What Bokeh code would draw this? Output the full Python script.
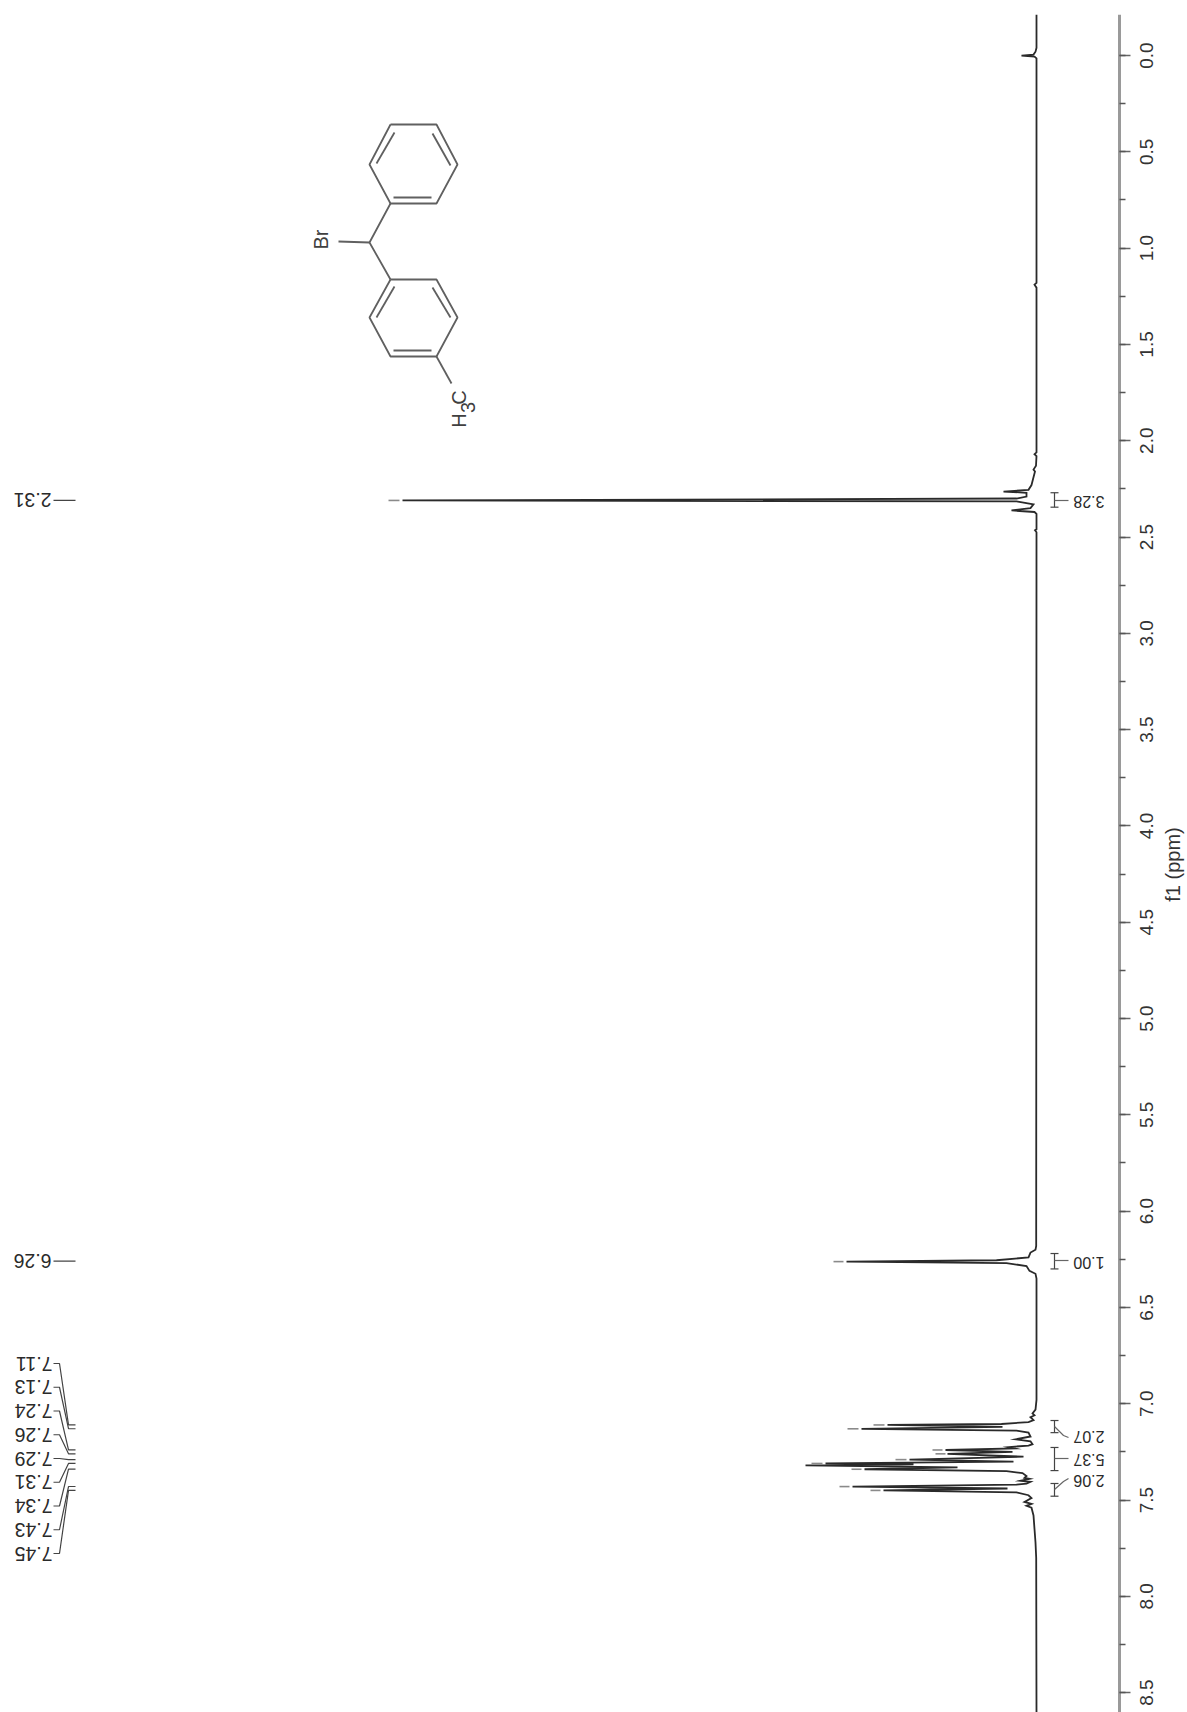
from math import pi
from bokeh.plotting import figure
from bokeh.models import Range1d, SingleIntervalTicker
from bokeh.core.properties import value
from bokeh.embed import file_html
from bokeh.resources import INLINE

FONT = "Liberation Sans"

# Spectrum trace: chemical shift (ppm) and intensity (arbitrary units)
spec_ppm = [
    -0.213, -0.04, -0.02, -0.005, 0.0, 0.006, 0.015, 1.18, 1.19, 1.205, 2.06, 2.07, 2.08, 2.13, 2.15, 2.16, 2.19,
    2.23, 2.255, 2.264, 2.27, 2.29, 2.30, 2.31, 2.315, 2.33, 2.35, 2.362, 2.37, 2.38, 2.46, 2.465, 2.475,
    6.18, 6.20, 6.215, 6.24, 6.255, 6.262, 6.27, 6.285, 6.31, 6.325, 6.35,
    6.98, 7.03, 7.05, 7.06, 7.07, 7.085, 7.095, 7.105, 7.11, 7.12, 7.13, 7.14, 7.15, 7.17, 7.185, 7.195,
    7.21, 7.217, 7.225, 7.232, 7.24, 7.25, 7.26, 7.275, 7.29, 7.30, 7.31, 7.315, 7.32, 7.33, 7.34, 7.35,
    7.36, 7.375, 7.385, 7.39, 7.40, 7.405, 7.415, 7.42, 7.43, 7.44, 7.45, 7.46, 7.475, 7.49, 7.51, 7.52,
    7.53, 7.54, 7.58, 7.65, 7.72, 7.80, 8.603,
]
spec_int = [
    0, 0, 1, 3, 15, 2, 0, 0, 2, 0, 0, 2, 0, 0.5, 3, 1.5, 3,
    5, 8, 33, 10, 10, 20, 634, 20, 3, 6, 25, 2, 0, 0, 1.5, 0,
    0.3, 1, 6, 8, 40, 190, 30, 10, 7, 1, 0,
    0, 1, 4, 2, 6, 3, 8, 35, 149, 34, 175, 20, 8, 6, 21, 6,
    4, 8, 28, 22, 91, 24, 89, 13, 127, 23, 211, 123, 231, 79, 172, 30,
    14, 10, 12, 7, 16, 6, 10, 20, 184, 29, 153, 20, 8, 5, 12, 5,
    10, 5, 3, 2, 1, 0.3, 0,
]

# Faded peak tips
tip_ppm = [2.31, 6.262, 7.11, 7.13, 7.24, 7.26, 7.29, 7.31, 7.34, 7.43, 7.45]
tip_outer = [648, 203, 163, 189, 104, 101, 141, 225, 185, 197, 166]
tip_inner = [637, 193, 152, 178, 94, 91, 130, 214, 175, 187, 156]

# Peak labels
single_labels = ["2.31", "6.26"]
single_ppm = [2.31, 6.26]
group_labels = ["7.11", "7.13", "7.24", "7.26", "7.29", "7.31", "7.34", "7.43", "7.45"]
group_ppm = [7.11, 7.13, 7.24, 7.26, 7.29, 7.31, 7.34, 7.43, 7.45]

# Integrals
int_labels = ["3.28", "1.00", "2.07", "5.37", "2.06"]
int_start = [2.27, 6.22, 7.087, 7.227, 7.414]
int_end = [2.345, 6.30, 7.15, 7.347, 7.48]
int_label_ppm = [2.32, 6.267, 7.175, 7.29, 7.40]

# Axis
tick_values = [0.0, 0.5, 1.0, 1.5, 2.0, 2.5, 3.0, 3.5, 4.0, 4.5, 5.0, 5.5, 6.0, 6.5, 7.0, 7.5, 8.0, 8.5]
tick_labels = ["0.0", "0.5", "1.0", "1.5", "2.0", "2.5", "3.0", "3.5", "4.0",
               "4.5", "5.0", "5.5", "6.0", "6.5", "7.0", "7.5", "8.0", "8.5"]
ppm_major_step = 0.5
axis_title = "f1 (ppm)"

p = figure(
    width=1187, height=1712, frame_width=1179, frame_height=1698,
    x_range=Range1d(1028, -151), y_range=Range1d(8.603, -0.213),
    x_axis_location=None, y_axis_location="right",
    output_backend="svg", toolbar_location=None,
    min_border_left=8, min_border_top=14, min_border_bottom=0, min_border_right=0,
)
p.outline_line_color = None
p.background_fill_color = "white"
p.grid.visible = False
p.extra_x_ranges["px"] = Range1d(8, 1187)
p.extra_y_ranges["px"] = Range1d(1712, 14)

ax = p.yaxis[0]
ax.fixed_location = -83
ax.ticker = SingleIntervalTicker(interval=ppm_major_step, num_minor_ticks=2)
ax.major_label_overrides = {v: "" for v in tick_values}
ax.major_label_text_font_size = "0px"
ax.axis_line_color = "#9a9a9a"
ax.axis_line_width = 3
ax.major_tick_line_color = "#666666"
ax.minor_tick_line_color = "#555555"
ax.major_tick_line_width = 1.5
ax.minor_tick_line_width = 1.5
ax.major_tick_out = 11
ax.major_tick_in = 0
ax.minor_tick_out = 6
ax.minor_tick_in = 0

PX = dict(x_range_name="px", y_range_name="px")

# Tick labels and axis title, centred on their ticks and reading bottom to top
p.text([1146] * len(tick_values), tick_values, text=tick_labels, x_range_name="px",
       angle=pi / 2, text_align="center", text_baseline="middle",
       text_font=value(FONT), text_font_size="19px", text_color="#333333")
p.text([1172], [864], text=[axis_title], angle=pi / 2, text_align="center",
       text_baseline="middle", text_font=value(FONT), text_font_size="20px",
       text_color="#333333", **PX)

p.line(spec_int, spec_ppm, line_color="#2a2a2a", line_width=1.8, line_join="miter")
p.segment(tip_inner, tip_ppm, tip_outer, tip_ppm, line_color="#8a8a8a", line_width=1.6)


def y_px(ppm):
    return 55 + 192.6 * ppm


# Peak labels
txt_kw = dict(text_font=value(FONT), text_font_size="19.5px", text_color="#2a2a2a",
              text_align="left", text_baseline="middle", angle=pi, **PX)
p.text([51] * 2, [y_px(v) for v in single_ppm], text=single_labels, **txt_kw)
p.segment([53] * 2, [y_px(v) for v in single_ppm], [75] * 2, [y_px(v) for v in single_ppm],
          line_color="#444444", line_width=1.2, **PX)
lab_y = [1363 + 23.75 * i for i in range(len(group_labels))]
p.text([52] * len(lab_y), lab_y, text=group_labels, **txt_kw)
p.multi_line([[53, 59, 68, 75]] * len(lab_y),
             [[ly, ly, y_px(v), y_px(v)] for ly, v in zip(lab_y, group_ppm)],
             line_color="#444444", line_width=1.2, **PX)

# Integrals
p.segment([1054] * 5, int_start, [1054] * 5, int_end, line_color="#444444", line_width=1.2,
          x_range_name="px")
p.segment([1050] * 5, int_start, [1058] * 5, int_start, line_color="#444444", line_width=1.2,
          x_range_name="px")
p.segment([1050] * 5, int_end, [1058] * 5, int_end, line_color="#444444", line_width=1.2,
          x_range_name="px")
p.multi_line(
    [[1054, 1068], [1054, 1068], [1054, 1063, 1068], [1054, 1068], [1054, 1063, 1068]],
    [[500, 500], [1260, 1260], [1426, 1435, 1437], [1458, 1458], [1489, 1481, 1478]],
    line_color="#666666", line_width=1.2, **PX)
p.text([1104] * 5, int_label_ppm, text=int_labels, text_font=value(FONT), text_font_size="16px",
       text_color="#2a2a2a", text_align="left", text_baseline="middle", angle=pi, x_range_name="px")

# Structure drawing
bond_color = "#606060"
bonds = [
    [(390, 124), (436, 124), (457, 164), (436, 203), (390, 203), (369, 164), (390, 124)],
    [(394, 132), (376, 163)], [(432, 133), (450, 165)], [(393, 197), (431, 197)],
    [(390, 203), (369, 242), (390, 279)], [(369, 242), (338, 241)],
    [(390, 279), (436, 279), (457, 317), (436, 356), (390, 356), (369, 317), (390, 279)],
    [(394, 286), (376, 317)], [(432, 287), (450, 317)], [(393, 350), (431, 350)],
    [(436, 356), (451, 383)],
]
p.multi_line([[q[0] for q in b] for b in bonds], [[q[1] for q in b] for b in bonds],
             line_color=bond_color, line_width=1.8, **PX)
p.text([320, 458, 467, 458], [239, 420, 407, 397], text=["Br", "H", "3", "C"],
       text_font=value(FONT), text_font_size="20px", text_color="#404040",
       text_align="center", text_baseline="middle", angle=pi / 2, **PX)

open("out.html", "w").write(file_html(p, INLINE))
